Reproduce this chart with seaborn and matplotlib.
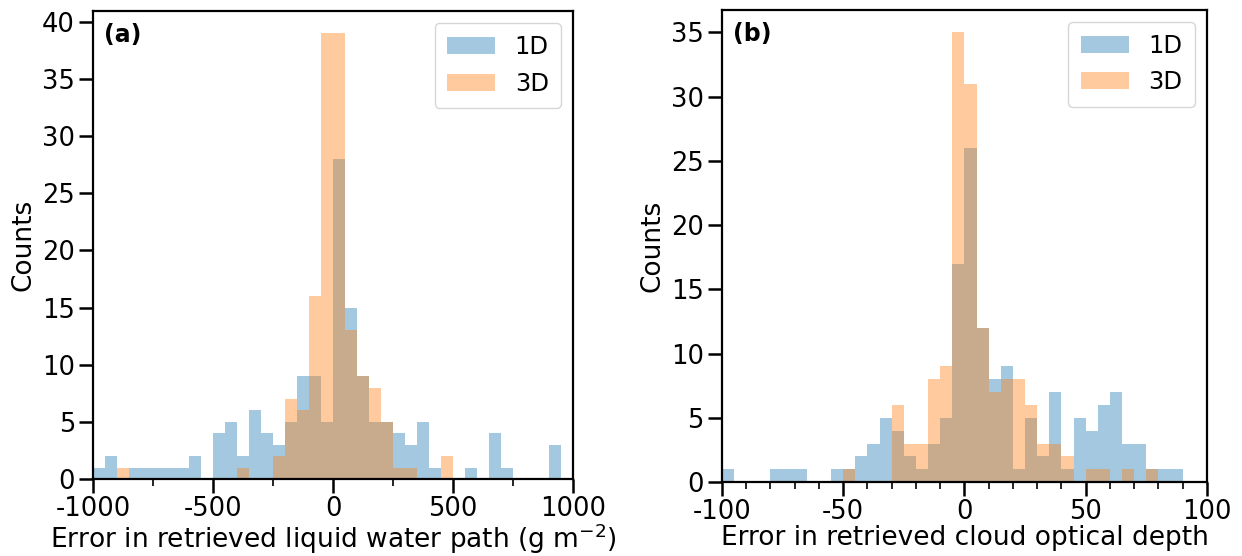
import numpy as np
import pandas as pd
import matplotlib
matplotlib.use("Agg")
import matplotlib.pyplot as plt
from matplotlib.ticker import MultipleLocator
import seaborn as sns

# Liquid water path retrieval error: 40 bins of 50 g m^-2 over [-1000, 1000]
lwp_edges = np.arange(-1000, 1001, 50)
lwp_1d = [1, 2, 0, 1, 1, 1, 1, 1, 2, 0, 4, 5, 2, 6, 4, 3, 5, 9, 9, 5,
          28, 15, 9, 5, 5, 4, 3, 5, 1, 0, 0, 1, 0, 4, 1, 0, 0, 0, 3, 0]
lwp_3d = [0, 0, 1, 0, 0, 0, 0, 0, 0, 0, 0, 0, 1, 0, 0, 2, 7, 6, 16, 39,
          39, 13, 9, 8, 5, 1, 1, 0, 0, 2, 0, 0, 0, 0, 0, 0, 0, 0, 0, 0]

# Cloud optical depth retrieval error: 40 bins of 5 over [-100, 100]
cod_edges = np.arange(-100, 101, 5)
cod_1d = [1, 0, 0, 0, 1, 1, 1, 0, 0, 1, 1, 2, 3, 5, 4, 2, 1, 3, 5, 17,
          26, 12, 8, 9, 1, 5, 2, 7, 1, 5, 4, 6, 7, 3, 3, 1, 1, 1, 0, 0]
cod_3d = [0, 0, 0, 0, 0, 0, 0, 0, 0, 0, 1, 0, 0, 0, 6, 3, 3, 8, 9, 35,
          31, 12, 7, 8, 8, 6, 3, 3, 2, 0, 1, 1, 0, 1, 0, 1, 0, 0, 0, 0]

series_labels = ["1D", "3D"]
series_colors = ["#1f77b4", "#ff7f0e"]
panel_tags = ["(a)", "(b)"]
x_labels = ["Error in retrieved liquid water path (g m$^{-2}$)",
            "Error in retrieved cloud optical depth"]
y_label = "Counts"

sns.set_theme(style="ticks")
plt.rcParams["font.family"] = ["DejaVu Sans"]
plt.rcParams.update({
    "axes.unicode_minus": False,
    "axes.linewidth": 1.6,
    "xtick.major.width": 1.8, "ytick.major.width": 1.8,
    "xtick.minor.width": 1.2,
    "xtick.major.size": 10, "ytick.major.size": 10,
    "xtick.minor.size": 5,
    "xtick.major.pad": 2, "ytick.major.pad": 3,
    "xtick.labelsize": 18.5, "ytick.labelsize": 18.5,
    "axes.labelsize": 19,
    "xtick.color": "black", "ytick.color": "black",
    "axes.edgecolor": "black", "axes.labelcolor": "black",
    "text.color": "black",
})

fig = plt.figure(figsize=(12.42, 5.56), dpi=100)
ax_a = fig.add_axes([0.0749, 0.1385, 0.3865, 0.8415])
ax_b = fig.add_axes([0.5813, 0.1330, 0.3905, 0.8490])

panels = [
    (ax_a, lwp_edges, lwp_1d, lwp_3d, (-1000, 1000), 500, 250),
    (ax_b, cod_edges, cod_1d, cod_3d, (-100, 100), 50, 10),
]

for i, (ax, edges, c1, c3, xlim, major, minor) in enumerate(panels):
    centers = 0.5 * (edges[:-1] + edges[1:])
    for counts, color, lab in zip([c1, c3], series_colors, series_labels):
        df = pd.DataFrame({"err": centers, "n": counts})
        sns.histplot(data=df, x="err", weights="n", bins=list(edges),
                     element="step", fill=True, color=color, alpha=0.4,
                     linewidth=0, label=lab, ax=ax)
    ax.set_xlim(*xlim)
    ax.set_ylim(0, 1.05 * max(max(c1), max(c3)))
    ax.xaxis.set_major_locator(MultipleLocator(major))
    ax.xaxis.set_minor_locator(MultipleLocator(minor))
    ax.yaxis.set_major_locator(MultipleLocator(5))
    ax.set_xlabel(x_labels[i], labelpad=0)
    ax.set_ylabel(y_label, labelpad=4)
    ax.text(0.022, 0.975, panel_tags[i], transform=ax.transAxes,
            ha="left", va="top", fontsize=17, fontweight="bold")
    ax.legend(loc="upper right", fontsize=17.5, handlelength=2.0,
              borderpad=0.5, framealpha=0.8)

fig.savefig("out.png", dpi=100)
